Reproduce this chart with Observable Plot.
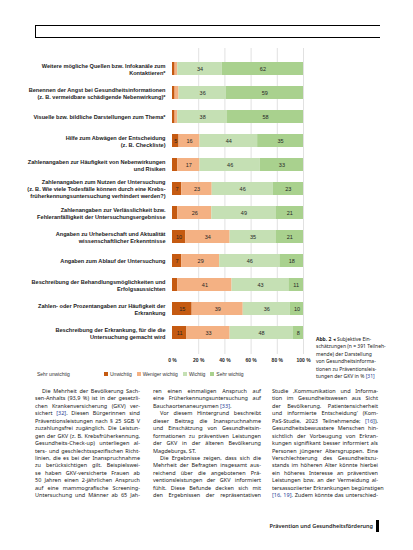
<!DOCTYPE html>
<html><head><meta charset="utf-8">
<script src="https://cdn.jsdelivr.net/npm/d3@7"></script>
<script src="https://cdn.jsdelivr.net/npm/@observablehq/plot@0.6"></script>
<style>
html,body{margin:0;padding:0;background:#fff;}
#page{position:relative;width:413px;height:550px;overflow:hidden;background:#fff;}
.abs{position:absolute;}
.body{font-family:"Noto Sans","Open Sans",sans-serif;font-size:5.5px;line-height:7.45px;color:#222;}
.ln{white-space:nowrap;text-align:justify;text-align-last:justify;height:7.45px;}
.ln.last{text-align-last:left;}
.ln.ind{text-indent:7px;}
.cite{color:#1f3c96;}
.legend{font-family:"Liberation Sans",Arial,sans-serif;font-size:5px;color:#333;display:flex;align-items:center;}
.legend .sw{display:inline-block;width:4px;height:4px;margin-right:2px;}
.legend .it{display:flex;align-items:center;margin-right:5px;}
#chart svg{overflow:visible}
</style></head>
<body><div id="page">
<div class="abs" style="left:35px;top:25px;width:344px;height:11px;border:1.3px solid #000;border-right:none;"></div>
<div id="chart" class="abs" style="left:0;top:0;"></div>
<div id="legendLeft" class="abs legend" style="left:37px;top:371px;"></div>
<div id="legend" class="abs legend" style="left:104px;top:371px;"></div>
<div id="caption" class="abs body" style="left:316px;top:336px;width:64px;font-size:5px;line-height:7.4px;"></div>
<div id="col1" class="abs body" style="left:35px;top:388px;width:105px;"></div>
<div id="col2" class="abs body" style="left:153px;top:388px;width:108px;"></div>
<div id="col3" class="abs body" style="left:272px;top:388px;width:106px;"></div>
<div class="abs" style="right:40px;top:522px;font-family:'Noto Sans',sans-serif;font-size:5.5px;font-weight:600;color:#222;">Prävention und Gesundheitsförderung</div>
<div class="abs" style="left:376px;top:520px;width:2.5px;height:12px;background:#000;"></div>
</div>
<script>
// ---- chart data ----
const items = [
  "Weitere mögliche Quellen bzw. Infokanäle zum\nKontaktieren*",
  "Benennen der Angst bei Gesundheitsinformationen\n(z. B. vermeidbare schädigende Nebenwirkung)*",
  "Visuelle bzw. bildliche Darstellungen zum Thema*",
  "Hilfe zum Abwägen der Entscheidung\n(z. B. Checkliste)",
  "Zahlenangaben zur Häufigkeit von Nebenwirkungen\nund Risiken",
  "Zahlenangaben zum Nutzen der Untersuchung\n(z. B. Wie viele Todesfälle können durch eine Krebs-\nfrüherkennungsuntersuchung verhindert werden?)",
  "Zahlenangaben zur Verlässlichkeit bzw.\nFehleranfälligkeit der Untersuchungsergebnisse",
  "Angaben zu Urheberschaft und Aktualität\nwissenschaftlicher Erkenntnisse",
  "Angaben zum Ablauf der Untersuchung",
  "Beschreibung der Behandlungsmöglichkeiten und\nErfolgsaussichten",
  "Zahlen- oder Prozentangaben zur Häufigkeit der\nErkrankung",
  "Beschreibung der Erkrankung, für die die\nUntersuchung gemacht wird"
];
const categories = ["Unwichtig", "Weniger wichtig", "Wichtig", "Sehr wichtig"];
const unwichtig      = [2, 2, 2, 5, 4, 7, 4, 10, 7, 4, 15, 11];
const wenigerWichtig = [2, 3, 2, 16, 17, 23, 26, 34, 29, 41, 39, 33];
const wichtig        = [34, 36, 38, 44, 46, 46, 49, 35, 46, 43, 36, 48];
const sehrWichtig    = [62, 59, 58, 35, 33, 23, 21, 21, 18, 11, 10, 8];
const colors = ["#c55a11", "#f4b183", "#c5e0b4", "#a9d18e"];
const xTicks = [0, 20, 40, 60, 80, 100];
const legendLeftText = "Sehr unwichtig";

const series = [unwichtig, wenigerWichtig, wichtig, sehrWichtig];
const data = items.flatMap((item, i) => series.map((s, k) => ({item, cat: categories[k], value: s[i]})));

const chart = Plot.plot({
  width: 413, height: 365,
  marginLeft: 172, marginRight: 110, marginTop: 48, marginBottom: 11,
  style: {fontFamily: "'Liberation Sans', Arial, sans-serif", fontSize: "5px", background: "transparent", color: "#222"},
  x: {domain: [0, 1]},
  y: {domain: items, padding: 0.45},
  color: {domain: categories, range: colors},
  marks: [
    Plot.ruleX(xTicks.slice(1).map(d => d / 100), {stroke: "#d9d9d9", strokeWidth: 0.8}),
    Plot.barX(data, Plot.stackX({x: "value", y: "item", fill: "cat", offset: "normalize", order: categories})),
    Plot.text(data, Plot.stackX({x: "value", y: "item", z: "cat", offset: "normalize", order: categories,
      text: d => d.value >= 5 ? String(d.value) : null, fill: "#262626", fontSize: 5.5})),
    Plot.axisX({ticks: xTicks.map(d => d / 100), tickFormat: d => Math.round(d * 100) + " %", tickSize: 0, tickPadding: 4, fontSize: 5, fontWeight: "bold", label: null}),
    Plot.axisY({tickSize: 0, tickPadding: 7, fontWeight: "bold", fontSize: 5.6, lineHeight: 1.28, label: null})
  ]
});
document.getElementById("chart").appendChild(chart);

// legend
document.getElementById("legendLeft").textContent = legendLeftText;
const lg = document.getElementById("legend");
categories.forEach((c, k) => {
  const it = document.createElement("span"); it.className = "it";
  const sw = document.createElement("span"); sw.className = "sw"; sw.style.background = colors[k];
  it.appendChild(sw); it.appendChild(document.createTextNode(c)); lg.appendChild(it);
});

// ---- text content ----
const captionLines = [
  "<b>Abb. 2</b> ◂ Subjektive Ein-",
  "schätzungen (n = 391 Teilneh-",
  "mende) der Darstellung",
  "von Gesundheitsinforma-",
  "tionen zu Präventionsleis-",
  "tungen der GKV in % [31]"
];
const col1 = [
  ">Die Mehrheit der Bevölkerung Sach-",
  "sen-Anhalts (93,9 %) ist in der gesetzli-",
  "chen Krankenversicherung (GKV) ver-",
  "sichert [32]. Diesen Bürgerinnen sind",
  "Präventionsleistungen nach § 25 SGB V",
  "zuzahlungsfrei zugänglich. Die Leistun-",
  "gen der GKV (z. B. Krebsfrüherkennung,",
  "Gesundheits-Check-up) unterliegen al-",
  "ters- und geschlechtsspezifischen Richt-",
  "linien, die es bei der Inanspruchnahme",
  "zu berücksichtigen gilt. Beispielswei-",
  "se haben GKV-versicherte Frauen ab",
  "50 Jahren einen 2-jährlichen Anspruch",
  "auf eine mammografische Screening-",
  "Untersuchung und Männer ab 65 Jah-"
];
const col2 = [
  "ren einen einmaligen Anspruch auf",
  "eine Früherkennungsuntersuchung auf",
  "Bauchaortenaneurysmen [33].|",
  ">Vor diesem Hintergrund beschreibt",
  "dieser Beitrag die Inanspruchnahme",
  "und Einschätzung von Gesundheitsin-",
  "formationen zu präventiven Leistungen",
  "der GKV in der älteren Bevölkerung",
  "Magdeburgs, ST.|",
  ">Die Ergebnisse zeigen, dass sich die",
  "Mehrheit der Befragten insgesamt aus-",
  "reichend über die angebotenen Prä-",
  "ventionsleistungen der GKV informiert",
  "fühlt. Diese Befunde decken sich mit",
  "den Ergebnissen der repräsentativen"
];
const col3 = [
  "Studie ‚Kommunikation und Informa-",
  "tion im Gesundheitswesen aus Sicht",
  "der Bevölkerung. Patientensicherheit",
  "und informierte Entscheidung‘ (Kom-",
  "PaS-Studie, 2023 Teilnehmende; [16]).",
  "Gesundheitsbewusstere Menschen hin-",
  "sichtlich der Vorbeugung von Erkran-",
  "kungen signifikant besser informiert als",
  "Personen jüngerer Altersgruppen. Eine",
  "Verschlechterung des Gesundheitszu-",
  "stands im höheren Alter könnte hierbei",
  "ein höheres Interesse an präventiven",
  "Leistungen bzw. an der Vermeidung al-",
  "tersassoziierter Erkrankungen begünstigen",
  "[16, 19]. Zudem könnte das unterschied-"
];
function fill(id, lines, justify) {
  const el = document.getElementById(id);
  lines.forEach(raw => {
    let t = raw, cls = "ln";
    if (t.startsWith(">")) { t = t.slice(1); cls += " ind"; }
    if (t.endsWith("|")) { t = t.slice(0, -1); cls += " last"; }
    if (!justify) cls += " last";
    const d = document.createElement("div"); d.className = cls;
    d.innerHTML = t.replace(/\[(\d+(, \d+)?)\]/g, '<span class="cite">[$1]</span>');
    el.appendChild(d);
  });
}
fill("col1", col1, true);
fill("col2", col2, true);
fill("col3", col3, true);
fill("caption", captionLines, false);
document.querySelectorAll("#caption .ln").forEach(d => { d.style.height = "7.4px"; });
</script>
</body></html>
